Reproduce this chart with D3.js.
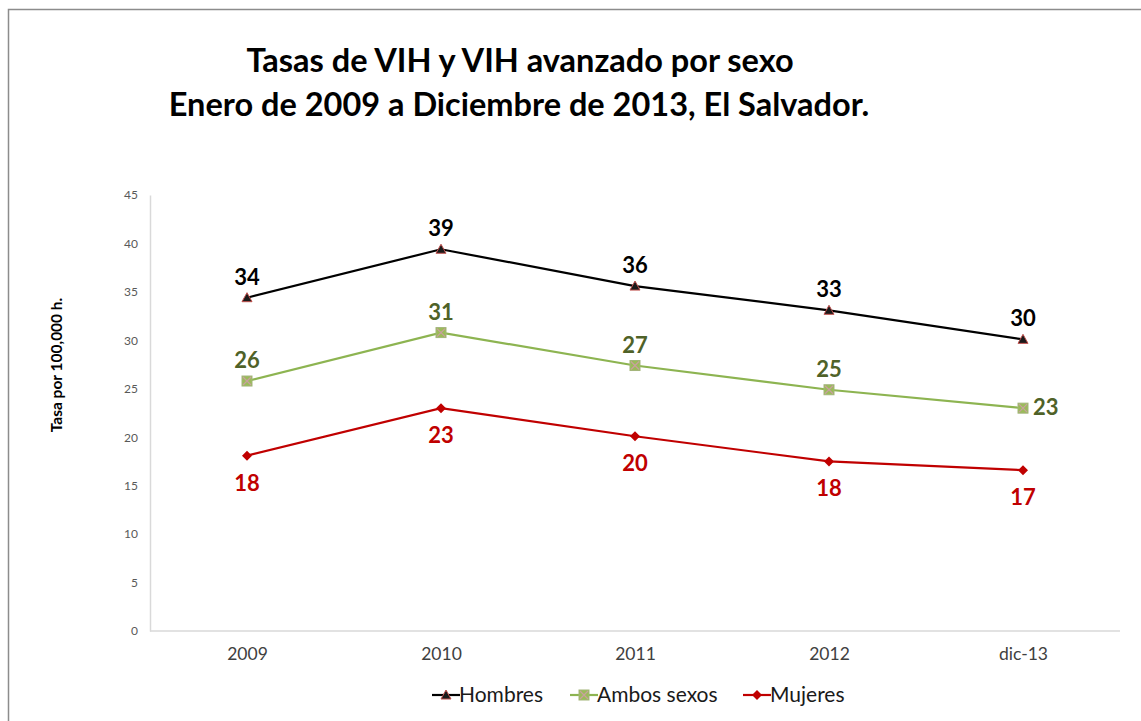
<!DOCTYPE html>
<html>
<head>
<meta charset="utf-8">
<script src="https://cdn.jsdelivr.net/npm/d3@7"></script>
<style>
  body { margin:0; background:#fff; }
  text { font-family: Lato, "Open Sans", sans-serif; }
</style>
</head>
<body>
<svg width="1141" height="721"></svg>
<script>
var years = ["2009", "2010", "2011", "2012", "dic-13"];
var hombres = [34.4, 39.4, 35.6, 33.1, 30.1];
var ambos = [25.8, 30.8, 27.4, 24.9, 23.0];
var mujeres = [18.1, 23.0, 20.1, 17.5, 16.6];
var yTicks = [0, 5, 10, 15, 20, 25, 30, 35, 40, 45];

var svg = d3.select("svg");

// frame
svg.append("path").attr("d", "M8.5,721 V9.5 H1141").attr("fill", "none")
  .attr("stroke", "#8c8c8c").attr("stroke-width", 1.5);

var x = d3.scalePoint().domain(years).range([150, 1120]).padding(0.5);
var y = d3.scaleLinear().domain([0, 45]).range([631, 195]);

// axes
var ya = svg.append("g").attr("transform", "translate(150,0)")
  .call(d3.axisLeft(y).tickValues(yTicks).tickSize(0).tickPadding(12));
ya.select(".domain").attr("stroke", "#d9d9d9").attr("stroke-width", 1.5);
ya.selectAll("text").attr("font-size", 12).attr("fill", "#595959");

var xa = svg.append("g").attr("transform", "translate(0,631)")
  .call(d3.axisBottom(x).tickSize(0).tickPadding(17));
xa.select(".domain").attr("stroke", "#d9d9d9").attr("stroke-width", 1.5)
  .attr("d", "M150,0H1120");
xa.selectAll("text").attr("font-size", 17.5).attr("fill", "#404040");

// titles
svg.append("text").attr("x", 520).attr("y", 72).attr("text-anchor", "middle")
  .attr("font-size", 32.5).attr("font-weight", "bold").text("Tasas de VIH y VIH avanzado por sexo");
svg.append("text").attr("x", 519).attr("y", 116).attr("text-anchor", "middle")
  .attr("font-size", 32.5).attr("font-weight", "bold").text("Enero de 2009 a Diciembre de 2013, El Salvador.");
svg.append("text").attr("transform", "translate(62,365) rotate(-90)").attr("text-anchor", "middle")
  .attr("font-size", 15.5).attr("font-weight", "bold").text("Tasa por 100,000 h.");

var series = [
  {name: "Hombres", vals: hombres, line: "#000000", fill: "#1a1a1a", stroke: "#c0504d", lab: "#000000", marker: "tri", pos: "above"},
  {name: "Ambos sexos", vals: ambos, line: "#8db451", fill: "#9bbb59", stroke: "#8a9a6a", lab: "#4f6228", marker: "sq", pos: "above"},
  {name: "Mujeres", vals: mujeres, line: "#c00000", fill: "#c00000", stroke: "#c00000", lab: "#c00000", marker: "dia", pos: "below"}
];

function marker(g, s, cx, cy) {
  if (s.marker == "tri") {
    g.append("path").attr("d", "M" + cx + "," + (cy - 5) + "L" + (cx + 5) + "," + (cy + 4) + "L" + (cx - 5) + "," + (cy + 4) + "Z")
      .attr("fill", s.fill).attr("stroke", s.stroke).attr("stroke-width", 1);
  } else if (s.marker == "sq") {
    g.append("rect").attr("x", cx - 5).attr("y", cy - 5).attr("width", 10).attr("height", 10)
      .attr("fill", s.fill).attr("stroke", "#a3b57a").attr("stroke-width", 1);
    g.append("path").attr("d", "M" + (cx - 4) + "," + (cy - 4) + "L" + (cx + 4) + "," + (cy + 4) + "M" + (cx + 4) + "," + (cy - 4) + "L" + (cx - 4) + "," + (cy + 4))
      .attr("stroke", "#c9a0a0").attr("stroke-width", 1.2);
  } else {
    g.append("path").attr("d", "M" + cx + "," + (cy - 5) + "L" + (cx + 5) + "," + cy + "L" + cx + "," + (cy + 5) + "L" + (cx - 5) + "," + cy + "Z")
      .attr("fill", s.fill);
  }
}

var line = d3.line().x(function(d, i) { return x(years[i]); }).y(function(d) { return y(d); });

series.forEach(function(s) {
  var g = svg.append("g");
  g.append("path").datum(s.vals).attr("d", line).attr("fill", "none")
    .attr("stroke", s.line).attr("stroke-width", 2.2);
  s.vals.forEach(function(v, i) {
    var cx = x(years[i]), cy = y(v);
    marker(g, s, cx, cy);
    var t = g.append("text").attr("font-size", 22).attr("font-weight", "bold").attr("fill", s.lab)
      .text(Math.round(v));
    if (s.name == "Ambos sexos" && i == 4) {
      t.attr("x", cx + 10).attr("y", cy + 7).attr("text-anchor", "start");
    } else if (s.pos == "above") {
      t.attr("x", cx).attr("y", cy - 13).attr("text-anchor", "middle");
    } else {
      t.attr("x", cx).attr("y", cy + 35).attr("text-anchor", "middle");
    }
  });
});

// legend
var legX = [432, 570, 743];
series.forEach(function(s, i) {
  var g = svg.append("g");
  var lx = legX[i], ly = 695;
  g.append("line").attr("x1", lx).attr("x2", lx + 28).attr("y1", ly).attr("y2", ly)
    .attr("stroke", s.line).attr("stroke-width", 2.2);
  var ms = {marker: s.marker, fill: s.fill, stroke: s.stroke};
  marker(g, ms, lx + 14, ly);
  g.append("text").attr("x", lx + 27).attr("y", ly + 7).attr("font-size", 21).attr("fill", "#1a1a1a").text(s.name);
});
</script>
</body>
</html>
